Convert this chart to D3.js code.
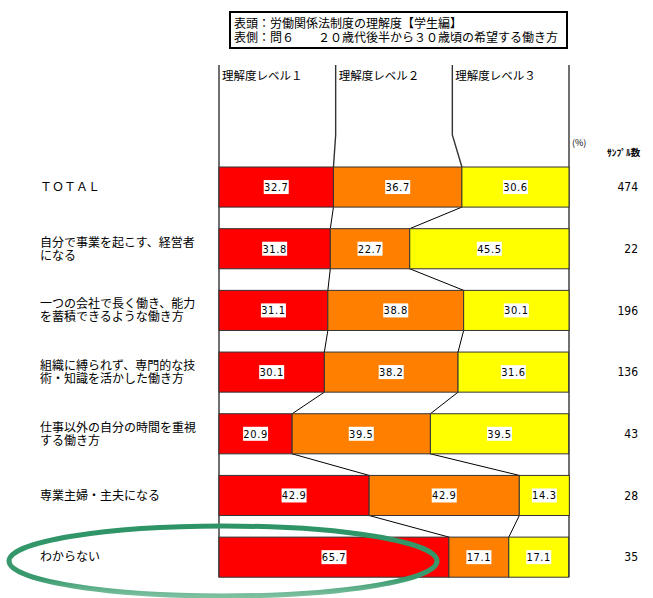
<!DOCTYPE html>
<meta charset="utf-8">
<style>
  body, html { margin:0; padding:0; background:#fff; }
  svg { display:block; }
  text { font-family: "Noto Sans CJK JP", sans-serif; fill:#000; }
  .val { font-family: "Liberation Sans Narrow", "DejaVu Sans Condensed", "Liberation Sans", sans-serif; font-size:11px; }
  .n { font-family: "Liberation Sans Narrow", "DejaVu Sans Condensed", "Liberation Sans", sans-serif; font-size:12px; }
</style>
<body>
<svg width="653" height="598"></svg>
<script src="https://d3js.org/d3.v7.min.js"></script>
<script>

var titleLines = ["表頭：労働関係法制度の理解度【学生編】", "表側：問６　　２０歳代後半から３０歳頃の希望する働き方"];
var levels = ["理解度レベル１", "理解度レベル２", "理解度レベル３"];
var categories = [
    ["ＴＯＴＡＬ"],
    ["自分で事業を起こす、経営者", "になる"],
    ["一つの会社で長く働き、能力", "を蓄積できるような働き方"],
    ["組織に縛られず、専門的な技", "術・知識を活かした働き方"],
    ["仕事以外の自分の時間を重視", "する働き方"],
    ["専業主婦・主夫になる"],
    ["わからない"]
];
var level1 = [32.7, 31.8, 31.1, 30.1, 20.9, 42.9, 65.7];
var level2 = [36.7, 22.7, 38.8, 38.2, 39.5, 42.9, 17.1];
var level3 = [30.6, 45.5, 30.1, 31.6, 39.5, 14.3, 17.1];
var samples = [474, 22, 196, 136, 43, 28, 35];
var colors = ["#ff0000", "#ff8000", "#ffff00"];

var svg = d3.select("svg");

var x = d3.scaleLinear().domain([0, 100]).range([219, 569]);
var y = d3.scaleBand()
    .domain(d3.range(categories.length))
    .range([167, 577.2])
    .paddingInner(0.35)
    .paddingOuter(0);
var bh = y.bandwidth();

// rows with stacked segments
var rows = categories.map(function(c, i) {
    var vals = [level1[i], level2[i], level3[i]];
    var acc = 0;
    var segs = vals.map(function(v, k) {
        var s = {k: k, v: v, x0: acc, x1: acc + v};
        acc += v;
        return s;
    });
    return {i: i, label: c, segs: segs, n: samples[i]};
});

// title box
svg.append("rect")
    .attr("x", 230).attr("y", 12)
    .attr("width", 337).attr("height", 36)
    .attr("fill", "none")
    .attr("stroke", "#000")
    .attr("stroke-width", 2);

svg.selectAll(".title")
    .data(titleLines)
    .enter().append("text")
    .attr("x", 234)
    .attr("y", function(d, i) { return 28 + i * 14; })
    .style("font-size", "12px")
    .text(function(d) { return d; });

// header columns (equal thirds)
var headTop = 65, headBottom = 135;
levels.forEach(function(l, k) {
    var hx = x(k * 100 / 3);
    svg.append("text")
        .attr("x", hx + 3)
        .attr("y", 80)
        .style("font-size", "11.5px")
        .text(l);
    if (k > 0) {
        var bx = x(rows[0].segs[k - 1].x1);
        svg.append("path")
            .attr("d", "M" + hx + "," + headTop + "V" + headBottom + "L" + bx + "," + y(0))
            .attr("fill", "none")
            .attr("stroke", "#333")
            .attr("stroke-width", 1.4);
    }
});

// outer vertical lines
[0, 100].forEach(function(v) {
    svg.append("line")
        .attr("x1", x(v)).attr("x2", x(v))
        .attr("y1", headTop).attr("y2", y(categories.length - 1) + bh)
        .attr("stroke", "#333")
        .attr("stroke-width", 1.4);
});

// connectors between rows
for (var i = 0; i < rows.length - 1; i++) {
    for (var k = 0; k < 2; k++) {
        svg.append("line")
            .attr("x1", x(rows[i].segs[k].x1))
            .attr("y1", y(i) + bh)
            .attr("x2", x(rows[i + 1].segs[k].x1))
            .attr("y2", y(i + 1))
            .attr("stroke", "#000")
            .attr("stroke-width", 1);
    }
}

var row = svg.selectAll(".row")
    .data(rows)
    .enter().append("g")
    .attr("class", "row")
    .attr("transform", function(d) { return "translate(0," + y(d.i) + ")"; });

row.selectAll("rect.seg")
    .data(function(d) { return d.segs; })
    .enter().append("rect")
    .attr("class", "seg")
    .attr("x", function(d) { return x(d.x0); })
    .attr("y", 0)
    .attr("width", function(d) { return x(d.x1) - x(d.x0); })
    .attr("height", bh)
    .attr("fill", function(d) { return colors[d.k]; })
    .attr("stroke", "#333")
    .attr("stroke-width", 1);

var lab = row.selectAll("g.lab")
    .data(function(d) { return d.segs; })
    .enter().append("g")
    .attr("class", "lab")
    .attr("transform", function(d) { return "translate(" + x((d.x0 + d.x1) / 2) + "," + (bh / 2) + ")"; });

lab.append("rect")
    .attr("x", -12.5).attr("y", -7)
    .attr("width", 25).attr("height", 14)
    .attr("fill", "#fff");

lab.append("text")
    .attr("class", "val")
    .attr("text-anchor", "middle")
    .attr("dy", "0.36em")
    .style("letter-spacing", "0.6px")
    .text(function(d) { return d3.format(".1f")(d.v); });

// category labels
row.each(function(d) {
    var g = d3.select(this);
    var n = d.label.length;
    d.label.forEach(function(t, j) {
        g.append("text")
            .attr("x", 40)
            .attr("y", bh / 2 + (j - (n - 1) / 2) * 13)
            .attr("dy", "0.36em")
            .style("font-size", "12px")
            .text(t);
    });
    g.append("text")
        .attr("class", "n")
        .attr("x", 638)
        .attr("y", bh / 2)
        .attr("dy", "0.36em")
        .attr("text-anchor", "end")
        .text(d.n);
});

svg.append("text")
    .attr("x", 572).attr("y", 146)
    .style("font-size", "9px")
    .text("(%)");

svg.append("text")
    .attr("x", 607).attr("y", 156)
    .style("font-size", "9.5px")
    .style("font-weight", "bold")
    .text("ｻﾝﾌﾟﾙ数");

// green ellipse highlight
var grad = svg.append("defs").append("linearGradient")
    .attr("id", "eg")
    .attr("x1", "0").attr("y1", "0").attr("x2", "0").attr("y2", "1");
grad.append("stop").attr("offset", "0").attr("stop-color", "#2e9466");
grad.append("stop").attr("offset", "0.75").attr("stop-color", "#3a9a6e");
grad.append("stop").attr("offset", "1").attr("stop-color", "#7cc0a0");

svg.append("ellipse")
    .attr("cx", 223).attr("cy", 561)
    .attr("rx", 214).attr("ry", 35)
    .attr("fill", "none")
    .attr("stroke", "url(#eg)")
    .attr("stroke-width", 5);

</script>
</body>
